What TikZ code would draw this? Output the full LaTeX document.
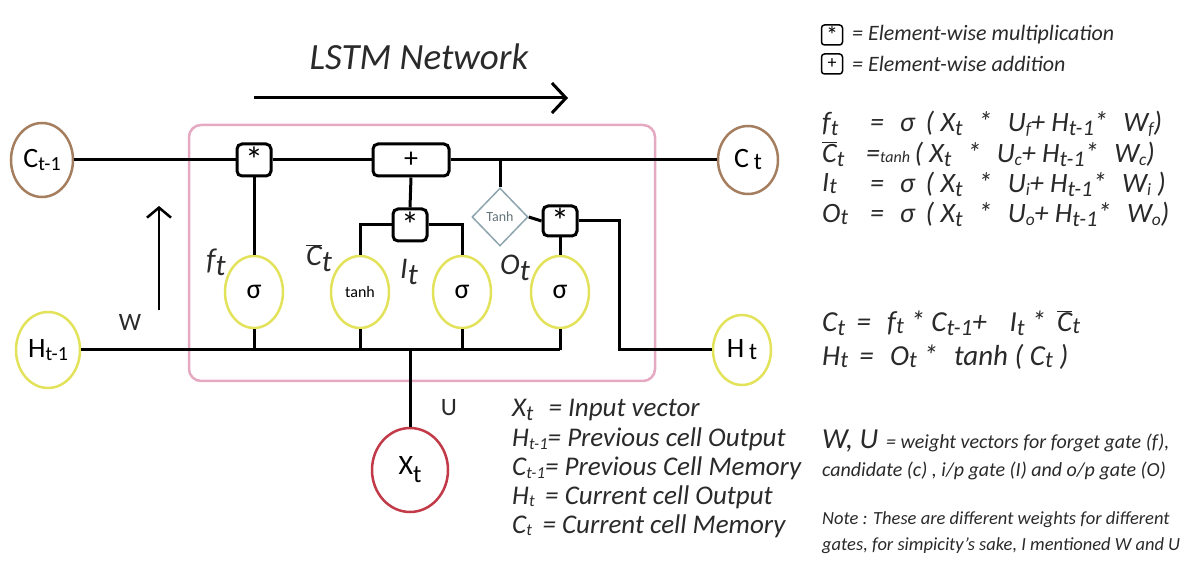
\documentclass[tikz,border=0pt]{standalone}
\usepackage{fontspec}
\setmainfont{Carlito}
\usetikzlibrary{shapes.geometric,arrows.meta}
\definecolor{brownc}{HTML}{A47E5E}
\definecolor{yel}{HTML}{E2E35A}
\definecolor{redc}{HTML}{C23A48}
\definecolor{pinkc}{HTML}{E6A9C2}
\definecolor{diagc}{HTML}{8FA5AE}
\definecolor{txt}{HTML}{2A2A2A}
\newcommand\lo[2][-4pt]{\raisebox{#1}{\scalebox{0.8}{#2}}}
\newcommand\ls[2][-3pt]{\raisebox{#1}{\scalebox{0.62}{#2}}}
\newcommand\mystar{\raisebox{-0.28em}{*}}
\begin{document}
\begin{tikzpicture}[x=1pt,y=-1pt,
  circ/.style={ellipse, draw, line width=2.5pt, inner sep=0pt, font=\fontsize{28}{30}\selectfont},
  opbox/.style={draw, rounded corners=5pt, line width=3pt, inner sep=0pt, minimum width=34pt, minimum height=32pt, font=\fontsize{36}{36}\selectfont},
  wire/.style={line width=3pt},
  lbl/.style={anchor=west, inner sep=0pt, text=txt, font=\fontsize{27}{30}\selectfont\itshape},
  eq/.style={anchor=west, inner sep=0pt, text=txt, font=\fontsize{28}{30}\selectfont\itshape},
  small/.style={anchor=west, inner sep=0pt, text=txt, font=\fontsize{20}{22}\selectfont\itshape},
  gl/.style={inner sep=0pt, text=txt, font=\fontsize{30}{30}\selectfont\itshape},
]
\useasboundingbox (0,0) rectangle (1192,569);
\fill[white] (0,0) rectangle (1192,569);

% title and arrow
\node[inner sep=0pt, text=txt, font=\fontsize{37}{40}\selectfont\itshape] (title) at (419,57) {LSTM Network};
\coordinate (ta) at (254,98);
\coordinate (tb) at (568,98);
\draw[wire, -{Straight Barb[length=14pt,width=30pt,line width=3pt]}] (ta) -- (tb);

% cell box
\draw[pinkc, line width=2.5pt, rounded corners=12pt] (189,125) rectangle (655,381);

% nodes
\node[circ, draw=brownc, minimum width=62pt, minimum height=74pt] (Cp) at (42,160) {C\raisebox{-3pt}{\fontsize{20}{20}\selectfont t-1}};
\node[circ, draw=brownc, minimum width=60pt, minimum height=68pt] (Ct) at (748,160) {C\,\raisebox{-2pt}{\fontsize{24}{24}\selectfont t}};
\node[circ, draw=yel, minimum width=64pt, minimum height=76pt] (Hp) at (48,350) {H\raisebox{-3pt}{\fontsize{20}{20}\selectfont t-1}};
\node[circ, draw=yel, minimum width=58pt, minimum height=70pt] (Ht) at (742,350) {H\,\raisebox{-2pt}{\fontsize{24}{24}\selectfont t}};
\node[circ, draw=redc, minimum width=76pt, minimum height=84pt] (Xt) at (410,470) {X\raisebox{-8pt}{\fontsize{25}{25}\selectfont t}};

\node[opbox] (m1) at (254,160) {\mystar};
\node[opbox, minimum width=76pt, font=\fontsize{28}{28}\selectfont] (pl) at (411,160) {+};
\node[opbox] (m2) at (410,225) {\mystar};
\node[opbox, minimum height=30pt] (m3) at (560,221) {\mystar};
\node[diamond, draw=diagc, line width=1.5pt, inner sep=0pt, minimum width=56pt, minimum height=58pt, text=diagc!70!black, font=\fontsize{14}{14}\selectfont] (tn) at (500,217) {Tanh};

\node[circ, draw=yel, minimum width=58pt, minimum height=72pt] (s1) at (254,292) {σ};
\node[circ, draw=yel, minimum width=58pt, minimum height=72pt, font=\fontsize{16}{16}\selectfont] (s2) at (360,292) {tanh};
\node[circ, draw=yel, minimum width=58pt, minimum height=72pt] (s3) at (462,292) {σ};
\node[circ, draw=yel, minimum width=58pt, minimum height=72pt] (s4) at (560,292) {σ};

% connectors
\draw[wire] (Cp.east) -- (m1.west);
\draw[wire] (m1.east) -- (pl.west);
\draw[wire] (pl.east) -- (Ct.west);
\draw[wire] (m1.south) -- (s1.north);
\draw[wire] (pl.south) -- (m2.north);
\draw[wire] (m2.west) -| (s2.north);
\draw[wire] (m2.east) -| (s3.north);
\coordinate (br) at (500,160);
\draw[wire] (br) -- (tn.north);
\draw[wire] (tn.east) -- (m3.west);
\draw[wire] (m3.south) -- (s4.north);
\coordinate (hturn) at (619,221);
\draw[wire] (m3.east) -- (hturn) |- (Ht.west);
\coordinate (bend) at (560,350);
\coordinate (bx) at (410,350);
\draw[wire] (Hp.east) -- (bend);
\draw[wire] (s1.south) -- (s1.south |- bend);
\draw[wire] (s2.south) -- (s2.south |- bend);
\draw[wire] (s3.south) -- (s3.south |- bend);
\draw[wire] (s4.south) -- (bend);
\draw[wire] (bx) -- (Xt.north);

% W arrow and labels
\coordinate (wa) at (159,310);
\coordinate (wb) at (159,206);
\draw[line width=2.5pt, -{Straight Barb[length=10pt,width=24pt,line width=2.5pt]}] (wa) -- (wb);
\node[inner sep=0pt, text=txt, font=\fontsize{25}{25}\selectfont] (W) at (130,322) {W};
\node[inner sep=0pt, text=txt, font=\fontsize{25}{25}\selectfont] (U) at (449,408) {U};

\node[gl] (lf) at (216,262) {f\raisebox{-6pt}{t}};
\node[gl] (lc) at (319,258) {$\overline{\mbox{\itshape C}}$\raisebox{-6pt}{t}};
\node[gl] (li) at (409,272) {I\raisebox{-6pt}{t}};
\node[gl] (lo) at (515,268) {O\raisebox{-6pt}{t}};

% bottom legend
\node[lbl] (k1) at (512,410) {X\lo{t}\,\, = Input vector};
\node[lbl] (k2) at (512,439) {H\ls{t-1}= Previous cell Output};
\node[lbl] (k3) at (512,468) {C\ls{t-1}= Previous Cell Memory};
\node[lbl] (k4) at (512,497) {H\ls[-2pt]{t}\, = Current cell Output};
\node[lbl] (k5) at (512,526) {C\ls[-2pt]{t}\, = Current cell Memory};

% right legend
\node[draw, rounded corners=3pt, line width=1.5pt, minimum width=21pt, minimum height=20pt, inner sep=0pt, font=\fontsize{24}{24}\selectfont] (bm) at (832,35) {\mystar};
\node[draw, rounded corners=3pt, line width=1.5pt, minimum width=21pt, minimum height=20pt, inner sep=0pt, font=\fontsize{18}{18}\selectfont] (ba) at (832,64) {+};
\node[small, font=\fontsize{22}{24}\selectfont\itshape] (t1) at (852,35) {= Element-wise multiplication};
\node[small, font=\fontsize{22}{24}\selectfont\itshape] (t2) at (852,64) {= Element-wise addition};

% equations
\node[eq] (e1l) at (822,124) {f\lo{t}};
\node[eq] (e1) at (870,124) {=\,\, σ \,( X\lo{t} \,\,*\,\, U\ls{f}+ H\lo{t-1}* \,\,W\ls{f})};
\node[eq] (e2l) at (822,154) {$\overline{\mbox{\itshape C}}$\lo{t}};
\node[eq] (e2) at (866,154) {={\fontsize{16}{16}\selectfont tanh}\,( X\lo{t} \,\,*\,\, U\ls{c}+ H\lo{t-1}* \,\,W\ls{c})};
\node[eq] (e3l) at (822,184) {I\lo[-2pt]{t}};
\node[eq] (e3) at (870,184) {=\,\, σ \,( X\lo{t} \,\,*\,\, U\ls{i}+ H\lo{t-1}* \,\,W\ls{i} )};
\node[eq] (e4l) at (822,214) {O\lo[-2pt]{t}};
\node[eq] (e4) at (870,214) {=\,\, σ \,( X\lo{t} \,\,*\,\, U\ls{o}+ H\lo{t-1}* \,\,W\ls{o})};

\node[eq, font=\fontsize{29}{30}\selectfont\itshape] (e5) at (822,323) {C\lo{t} \,=\,\, f\lo[-2pt]{t} * C\lo{t-1}+ \,\, I\lo{t} * \,$\overline{\mbox{\itshape C}}$\lo[-2pt]{t}};
\node[eq, font=\fontsize{29}{30}\selectfont\itshape] (e6) at (822,357) {H\lo[-2pt]{t} \,=\,\, O\lo[-2pt]{t} * \,\,tanh ( C\lo[-2pt]{t} )};

\node[small] (wu) at (822,441) {{\fontsize{29}{29}\selectfont W, U}\, = weight vectors for forget gate (f),};
\node[small] (wu2) at (822,471) {candidate (c) , i/p gate (I) and o/p gate (O)};
\node[small, font=\fontsize{18.5}{20}\selectfont\itshape] (n1) at (822,520) {Note : These are different weights for different};
\node[small, font=\fontsize{18.5}{20}\selectfont\itshape] (n2) at (822,546) {gates, for simpicity's sake, I mentioned W and U};
\end{tikzpicture}
\end{document}
